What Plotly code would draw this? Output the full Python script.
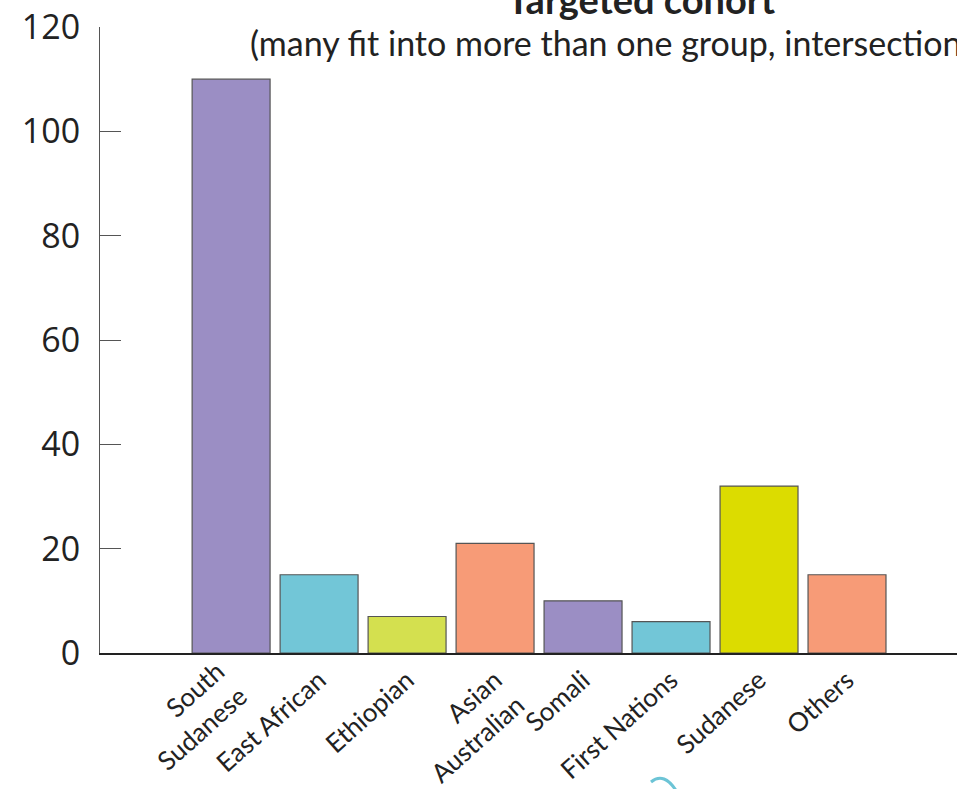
import plotly.graph_objects as go

# Cohort counts by group (groups can overlap)
categories = ["South<br>Sudanese", "East African", "Ethiopian", "Asian<br>Australian",
              "Somali", "First Nations", "Sudanese", "Others"]
counts = [110, 15, 7, 21, 10, 6, 32, 15]
bar_colors = ["#9b8ec4", "#72c6d7", "#d4e04f", "#f79b77",
              "#9b8ec4", "#72c6d7", "#dcdc00", "#f79b77"]
y_ticks = [0, 20, 40, 60, 80, 100, 120]

W, H = 957, 789
ML, MR, MT, MB = 100, 0, 27, 136
LABEL_FONT = dict(family="Lato", size=26, color="#222222")

fig = go.Figure(go.Bar(
    x=categories,
    y=counts,
    marker=dict(color=bar_colors, line=dict(color="#555555", width=1.2)),
    hoverinfo="x+y",
))

def px_to_paper(px, py):
    pw, ph = W - ML - MR, H - MT - MB
    return (px - ML) / pw, (H - MB - py) / ph

tx, _ = px_to_paper(641, 0)

# first category label is drawn as an annotation so its two lines sit clear of the next label
tick_text = [""] + categories[1:]

fig.update_layout(
    width=W, height=H,
    margin=dict(l=ML, r=MR, t=MT, b=MB, autoexpand=False),
    paper_bgcolor="white", plot_bgcolor="white",
    bargap=0.114,
    showlegend=False,
    xaxis=dict(
        type="category",
        range=[-1.49, 8.25],
        tickmode="array", tickvals=categories, ticktext=tick_text,
        automargin=False,
        showline=True, linecolor="#222222", linewidth=1.5,
        ticks="", showgrid=False, zeroline=False,
        tickangle=-42,
        tickfont=LABEL_FONT,
    ),
    yaxis=dict(
        range=[0, 120],
        tickvals=y_ticks,
        automargin=False,
        showline=True, linecolor="#555555", linewidth=1.2,
        ticks="inside", ticklen=21, tickcolor="#555555", tickwidth=1.2,
        showgrid=False, zeroline=False,
        ticklabelstandoff=12,
        tickfont=dict(family="Open Sans", size=34, color="#222222"),
    ),
    annotations=[
        dict(text="<b>Targeted cohort</b>", xref="paper", yref="paper",
             x=tx, y=px_to_paper(0, 14)[1], xanchor="center", yanchor="bottom",
             yshift=-10, showarrow=False,
             font=dict(family="Lato", size=38, color="#222222")),
        dict(text="(many fit into more than one group, intersectionality)",
             xref="paper", yref="paper",
             x=tx, y=px_to_paper(0, 42)[1], xanchor="center", yanchor="middle",
             showarrow=False,
             font=dict(family="Lato", size=34, color="#222222")),
        dict(text=categories[0], xref="x", yref="paper",
             x=categories[0], y=0, xanchor="center", yanchor="middle",
             xshift=-41, yshift=-63, textangle=-42, align="right",
             showarrow=False, font=LABEL_FONT),
    ],
)

# small teal arc at the bottom edge
a = px_to_paper(651, 782)
c = px_to_paper(664, 771)
b = px_to_paper(677, 792)
fig.add_shape(type="path", xref="paper", yref="paper",
              path=f"M {a[0]},{a[1]} Q {c[0]},{c[1]} {b[0]},{b[1]}",
              line=dict(color="#6cc4d6", width=3))

fig.write_html("out.html")
